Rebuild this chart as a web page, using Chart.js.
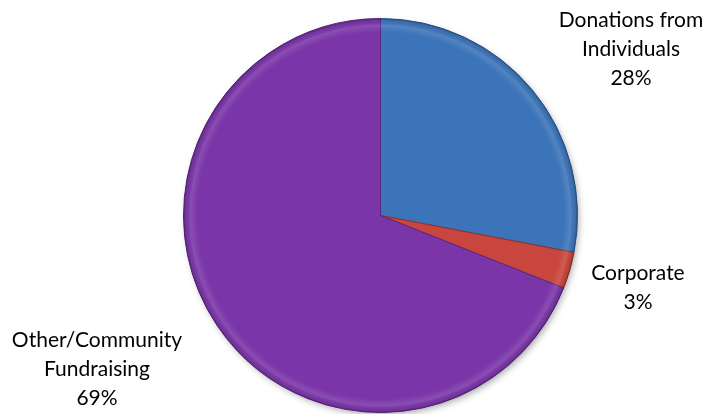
<!DOCTYPE html>
<html>
<head>
<meta charset="utf-8">
<script src="https://cdn.jsdelivr.net/npm/chart.js@4/dist/chart.umd.min.js"></script>
<style>
  html,body{margin:0;padding:0;background:#fff}
  #wrap{width:713px;height:414px;position:relative}
</style>
</head>
<body>
<div id="wrap"><canvas id="pie"></canvas></div>
<script>
const categories = ['Donations from Individuals', 'Corporate', 'Other/Community Fundraising'];
const labelLines = [['Donations from', 'Individuals'], ['Corporate'], ['Other/Community', 'Fundraising']];
const shares = [28, 3, 69];
const baseColors = ['#3c74b9', '#c8463d', '#7a36a8'];
const edgeColors = ['#2d5a94', '#962f28', '#5a2680'];

// where each label block is centred (x, y of first line)
const labelSpots = [[631, 20], [638, 273], [97, 340]];

const shadowPlugin = {
  id: 'shadow',
  beforeDatasetsDraw(chart) {
    const arc = chart.getDatasetMeta(0).data[0];
    if (!arc) return;
    const c = chart.ctx;
    c.save();
    c.shadowColor = 'rgba(0,0,0,0.35)';
    c.shadowBlur = 7;
    c.shadowOffsetX = 2;
    c.shadowOffsetY = 3;
    c.fillStyle = '#888';
    c.beginPath();
    c.arc(arc.x, arc.y, arc.outerRadius - 1, 0, Math.PI * 2);
    c.fill();
    c.restore();
  }
};

// soft bevel along the rim of every slice
const bevelPlugin = {
  id: 'bevel',
  afterDatasetsDraw(chart) {
    const c = chart.ctx;
    chart.getDatasetMeta(0).data.forEach(arc => {
      const r = arc.outerRadius;
      const g = c.createRadialGradient(arc.x, arc.y, 0, arc.x, arc.y, r);
      g.addColorStop(0, 'rgba(255,255,255,0)');
      g.addColorStop(0.93, 'rgba(255,255,255,0)');
      g.addColorStop(0.965, 'rgba(255,255,255,0.12)');
      g.addColorStop(0.988, 'rgba(0,0,0,0.04)');
      g.addColorStop(1, 'rgba(0,0,0,0.25)');
      c.save();
      c.fillStyle = g;
      c.beginPath();
      c.moveTo(arc.x, arc.y);
      c.arc(arc.x, arc.y, r, arc.startAngle, arc.endAngle);
      c.closePath();
      c.fill();
      c.restore();
    });
  }
};

const labelPlugin = {
  id: 'pieLabels',
  afterDatasetsDraw(chart) {
    const c = chart.ctx;
    c.save();
    c.fillStyle = '#000';
    c.font = '21px Lato, "Open Sans", sans-serif';
    c.textAlign = 'center';
    c.textBaseline = 'middle';
    shares.forEach((v, i) => {
      const [x, y] = labelSpots[i];
      const lines = labelLines[i].concat([v + '%']);
      lines.forEach((t, k) => c.fillText(t, x, y + k * 29));
    });
    c.restore();
  }
};

new Chart(document.getElementById('pie'), {
  type: 'pie',
  data: {
    labels: categories,
    datasets: [{
      data: shares,
      backgroundColor: baseColors,
      borderColor: edgeColors,
      borderWidth: 1
    }]
  },
  options: {
    responsive: true,
    maintainAspectRatio: false,
    animation: false,
    rotation: 0,
    layout: { padding: { top: 18, bottom: 1, left: 183, right: 135 } },
    plugins: { legend: { display: false }, tooltip: { enabled: false } }
  },
  plugins: [shadowPlugin, bevelPlugin, labelPlugin]
});
</script>
</body>
</html>
